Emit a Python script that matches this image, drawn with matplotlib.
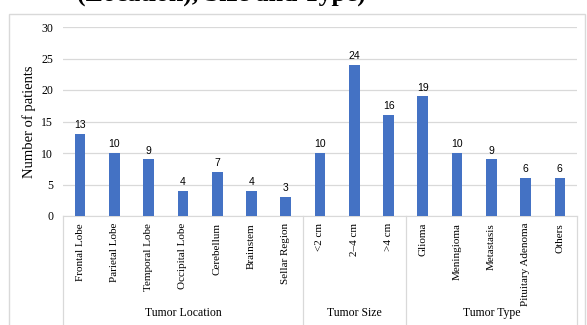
import numpy as np
import matplotlib.pyplot as plt
from matplotlib.patches import Rectangle
from matplotlib.transforms import blended_transform_factory

# data
categories = ["Frontal Lobe", "Parietal Lobe", "Temporal Lobe", "Occipital Lobe",
              "Cerebellum", "Brainstem", "Sellar Region",
              "<2 cm", "2\u20134 cm", ">4 cm",
              "Glioma", "Meningioma", "Metastasis", "Pituitary Adenoma", "Others"]
patients = [13, 10, 9, 4, 7, 4, 3, 10, 24, 16, 19, 10, 9, 6, 6]
groups = ["Tumor Location", "Tumor Size", "Tumor Type"]
group_sizes = [7, 3, 5]
y_ticks = [0, 5, 10, 15, 20, 25, 30]

SERIF = "Liberation Serif"
SANS = "Liberation Sans"
BAR = "#4472C4"
GRID = "#D9D9D9"

W, H = 587, 325
fig = plt.figure(figsize=(W / 100, H / 100), dpi=100)

# outer chart border (runs off the bottom like the screenshot)
fig.patches.append(Rectangle((9 / W, -0.02), (585 - 9) / W, (H - 14) / H + 0.02,
                             transform=fig.transFigure, fill=False,
                             edgecolor="#D9D9D9", linewidth=1.0))

# title, mostly cut off by the top edge in the screenshot
fig.text(221 / W, (H - 1) / H, "(Location), Size and Type)", ha="center", va="baseline",
         fontsize=18.5, fontweight="bold", family=SERIF)

ax = fig.add_axes([63 / W, (H - 216) / H, (577 - 63) / W, (216 - 27) / H])

x = np.arange(len(categories))
ax.bar(x, patients, width=0.31, color=BAR, zorder=3)
for xi, v in zip(x, patients):
    ax.text(xi, v + 0.6, str(v), ha="center", va="bottom", fontsize=7.5, family=SANS)

ax.set_xlim(-0.5, len(categories) - 0.5)
ax.set_ylim(0, 30)
ax.set_yticks(y_ticks)
ax.set_yticklabels([str(t) for t in y_ticks], family=SERIF, fontsize=8.5)
ax.yaxis.grid(True, color=GRID, linewidth=0.9, zorder=0)
ax.tick_params(axis="y", length=0, pad=7)

ax.set_xticks(x)
ax.set_xticklabels(categories, rotation=90, family=SERIF, fontsize=8)
ax.tick_params(axis="x", length=0, pad=5)

for s in ["top", "right", "left"]:
    ax.spines[s].set_visible(False)
ax.spines["bottom"].set_color(GRID)

ax.set_ylabel("Number of patients", family=SERIF, fontsize=10.5, labelpad=4)

# multi-level category axis: separators and group labels
trans = blended_transform_factory(ax.transData, ax.transAxes)
bounds = np.concatenate([[0], np.cumsum(group_sizes)]) - 0.5
for b in bounds:
    ax.plot([b, b], [0, -0.7], color=GRID, linewidth=0.9, transform=trans, clip_on=False)
for g, lo, hi in zip(groups, bounds[:-1], bounds[1:]):
    ax.text((lo + hi) / 2, -(313 - 216) / 189, g, transform=trans, ha="center",
            va="center", family=SERIF, fontsize=8.5)

fig.savefig("out.png", dpi=100)
